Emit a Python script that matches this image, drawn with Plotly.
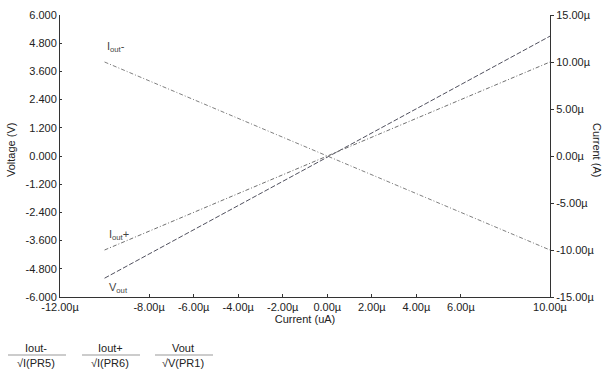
import plotly.graph_objects as go

# Data (input current in uA, outputs)
current_in = [-10.0, 10.0]
iout_minus = [10.0, -10.0]     # uA, right axis
iout_plus = [-10.0, 10.0]      # uA, right axis
vout = [-5.2, 5.1]             # V, left axis

x_tickvals = [-12, -8, -6, -4, -2, 0, 2, 4, 6, 10]
x_ticktext = ["-12.00µ", "-8.00µ", "-6.00µ", "-4.00µ", "-2.00µ", "0.00µ", "2.00µ", "4.00µ", "6.00µ", "10.00µ"]
y1_tickvals = [-6.0, -4.8, -3.6, -2.4, -1.2, 0.0, 1.2, 2.4, 3.6, 4.8, 6.0]
y1_ticktext = ["-6.000", "-4.800", "-3.600", "-2.400", "-1.200", "0.000", "1.200", "2.400", "3.600", "4.800", "6.000"]
y2_tickvals = [-15, -10, -5, 0, 5, 10, 15]
y2_ticktext = ["-15.00µ", "-10.00µ", "-5.00µ", "0.00µ", "5.00µ", "10.00µ", "15.00µ"]

legend_names = ["Iout-", "Iout+", "Vout"]
legend_probes = ["I(PR5)", "I(PR6)", "V(PR1)"]

FONT = "Liberation Sans, Arial, sans-serif"
AX = "#333333"
L, R, T, B = 60, 58, 15, 74
PW, PH = 608 - L - R, 371 - T - B

def px_x(v):
    return (v - L) / PW

def px_y(v):
    return (371 - B - v) / PH

fig = go.Figure()
fig.add_trace(go.Scatter(x=current_in, y=iout_minus, mode="lines", yaxis="y2",
                         line=dict(color="#808080", width=1, dash="4px,2px,1px,2px"), name="Iout-"))
fig.add_trace(go.Scatter(x=current_in, y=iout_plus, mode="lines", yaxis="y2",
                         line=dict(color="#707070", width=1, dash="4px,2px,1px,2px"), name="Iout+"))
fig.add_trace(go.Scatter(x=current_in, y=vout, mode="lines", yaxis="y",
                         line=dict(color="#50505e", width=1, dash="5px,2px"), name="Vout"))

# curve labels
fig.add_annotation(x=current_in[0], y=iout_minus[0], yref="y2", text="I<sub>out</sub>-",
                   showarrow=False, xanchor="left", yanchor="bottom", xshift=0, yshift=6,
                   font=dict(family=FONT, size=11, color="#444"))
fig.add_annotation(x=current_in[0], y=iout_plus[0], yref="y2", text="I<sub>out</sub>+",
                   showarrow=False, xanchor="left", yanchor="bottom", xshift=2, yshift=6,
                   font=dict(family=FONT, size=11, color="#444"))
fig.add_annotation(x=current_in[0], y=vout[0], yref="y", text="V<sub>out</sub>",
                   showarrow=False, xanchor="left", yanchor="top", xshift=2, yshift=-1,
                   font=dict(family=FONT, size=11, color="#444"))

# axis titles
fig.add_annotation(xref="paper", yref="paper", x=px_x(11), y=px_y(150),
                   text="Voltage (V)", textangle=-90, showarrow=False,
                   xanchor="center", yanchor="middle",
                   font=dict(family=FONT, size=11, color="#222"))
fig.add_annotation(xref="paper", yref="paper", x=px_x(597), y=px_y(150),
                   text="Current (A)", textangle=90, showarrow=False,
                   xanchor="center", yanchor="middle",
                   font=dict(family=FONT, size=11, color="#222"))

# bottom legend
leg_x = [36, 110, 183]
for i, (nm, pr) in enumerate(zip(legend_names, legend_probes)):
    cx = leg_x[i]
    fig.add_annotation(xref="paper", yref="paper", x=px_x(cx), y=px_y(348),
                       text=nm, showarrow=False, xanchor="center", yanchor="middle",
                       font=dict(family=FONT, size=11, color="#222"))
    fig.add_annotation(xref="paper", yref="paper", x=px_x(cx), y=px_y(363),
                       text="√" + pr, showarrow=False, xanchor="center", yanchor="middle",
                       font=dict(family=FONT, size=11, color="#222"))
    fig.add_shape(type="line", xref="paper", yref="paper",
                  x0=px_x(cx - 28), x1=px_x(cx + 30),
                  y0=px_y(355), y1=px_y(355),
                  line=dict(color="#999", width=1))

fig.update_layout(
    width=608, height=371,
    margin=dict(l=L, r=R, t=T, b=B, autoexpand=False),
    paper_bgcolor="white", plot_bgcolor="white",
    showlegend=False,
    font=dict(family=FONT, size=11, color="#222"),
    xaxis=dict(range=[-12, 10], tickvals=x_tickvals, ticktext=x_ticktext,
               showgrid=False, zeroline=False, showline=True, linecolor=AX, linewidth=1,
               ticks="inside", ticklen=3, tickcolor=AX, mirror=False, automargin=False,
               title=dict(text="Current (uA)", font=dict(size=11), standoff=2)),
    yaxis=dict(range=[-6, 6], tickvals=y1_tickvals, ticktext=y1_ticktext,
               showgrid=False, zeroline=False, showline=True, linecolor=AX, linewidth=1,
               ticks="inside", ticklen=2, tickcolor=AX, automargin=False),
    yaxis2=dict(range=[-15, 15], tickvals=y2_tickvals, ticktext=y2_ticktext,
                overlaying="y", side="right", automargin=False,
                showgrid=False, zeroline=False, showline=True, linecolor=AX, linewidth=1,
                ticks="outside", ticklen=3, tickcolor=AX),
)

fig.write_html("out.html", config={"displayModeBar": False},
               post_script="document.body.style.margin='0';document.body.style.overflow='hidden';")
